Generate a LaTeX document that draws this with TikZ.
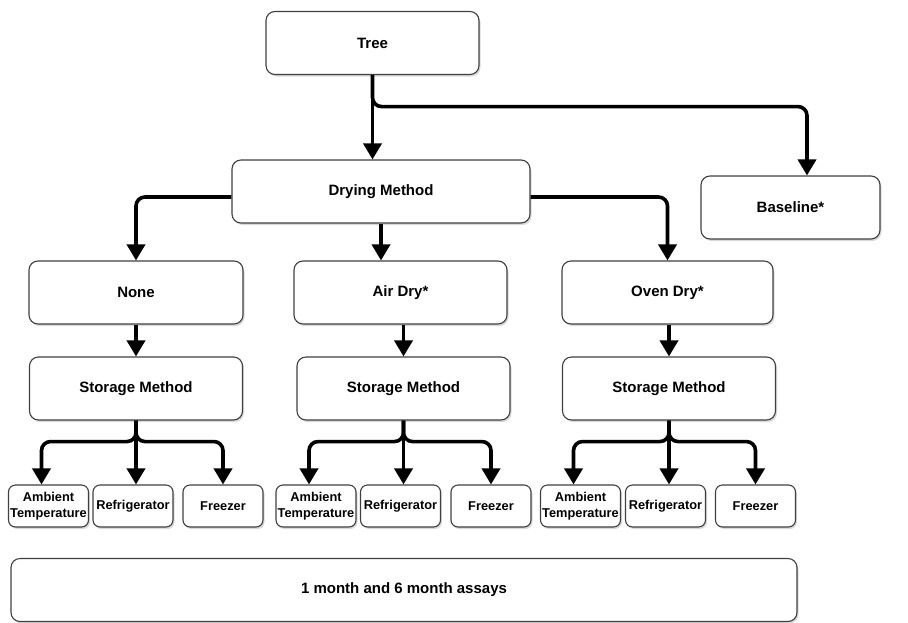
\documentclass[tikz,border=0pt]{standalone}
\usepackage{fontspec}
\setmainfont{Liberation Sans}
\usetikzlibrary{arrows.meta,shadows}

\begin{document}
\begin{tikzpicture}[x=1pt, y=-1pt,
            every node/.style = {font = \bfseries\fontsize{15}{17}\selectfont},
            box/.style        = {draw       = black!75,
                                line width = 1.1pt,
                                fill       = white,
                                rounded corners = 9pt,
                                minimum height  = 63pt,
                                inner sep  = 0pt,
                                align      = center,
                                drop shadow = {shadow xshift = 1.5pt,
                                               shadow yshift = -2pt,
                                               opacity       = 0.3}},
            small/.style      = {box,
                                rounded corners = 7pt,
                                minimum width   = 80pt,
                                minimum height  = 42pt,
                                font = \bfseries\fontsize{12.8}{15.5}\selectfont},
            link/.style       = {line width = 3.6pt,
                                rounded corners = 9pt,
                                -{Triangle[length=16pt, width=18pt]}}
            ]
            \useasboundingbox (0,0) rectangle (908,622);

            % top levels
            \node [box, minimum width = 213pt] (tree) at (372.5,43)  {Tree};
            \node [box, minimum width = 298pt] (dry)  at (381,191.5) {Drying Method};
            \node [box, minimum width = 179pt] (base) at (790.5,207.5) {Baseline*};

            \node [box, minimum width = 214pt] (none) at (136,292.5)   {None};
            \node [box, minimum width = 213pt] (air)  at (400.5,292.5) {Air Dry*};
            \node [box, minimum width = 211pt] (oven) at (667.5,292.5) {Oven Dry*};

            \node [box, minimum width = 786pt] (assay) at (404,590) {1 month and 6 month assays};

            \draw [link] (tree.south) -- (tree.south |- dry.north);
            \draw [link] (tree.south) -- ++(0,31.5) -| ([xshift=16.5pt]base.north);

            \draw [link] ([yshift=-5.5pt]dry.west) -| (none.north);
            \draw [link] ([yshift=-5.5pt]dry.east) -| (oven.north);
            \draw [link] (dry.south) -- (dry.south |- air.north);

            % storage groups
            \foreach \g/\dm/\sx/\ax/\fx/\zx in {1/none/136/48.5/133/223,
                                                 2/air/403.5/316/400.5/491,
                                                 3/oven/669/580.5/665.5/755.5}{
                \node [box, minimum width = 213pt] (sto\g) at (\sx,388.5) {Storage Method};
                \node [small] (amb\g) at (\ax,506) {Ambient\\Temperature};
                \node [small] (fri\g) at (\fx,506) {Refrigerator};
                \node [small] (frz\g) at (\zx,506) {Freezer};

                \draw [link] (sto\g.north |- \dm.south) -- (sto\g.north);
                \draw [link] (sto\g.south) -- ++(0,21) -| ([xshift=-7pt]amb\g.north);
                \draw [link] (sto\g.south) -- (sto\g.south |- fri\g.north);
                \draw [link] (sto\g.south) -- ++(0,21) -| (frz\g.north);
            }
\end{tikzpicture}
\end{document}
